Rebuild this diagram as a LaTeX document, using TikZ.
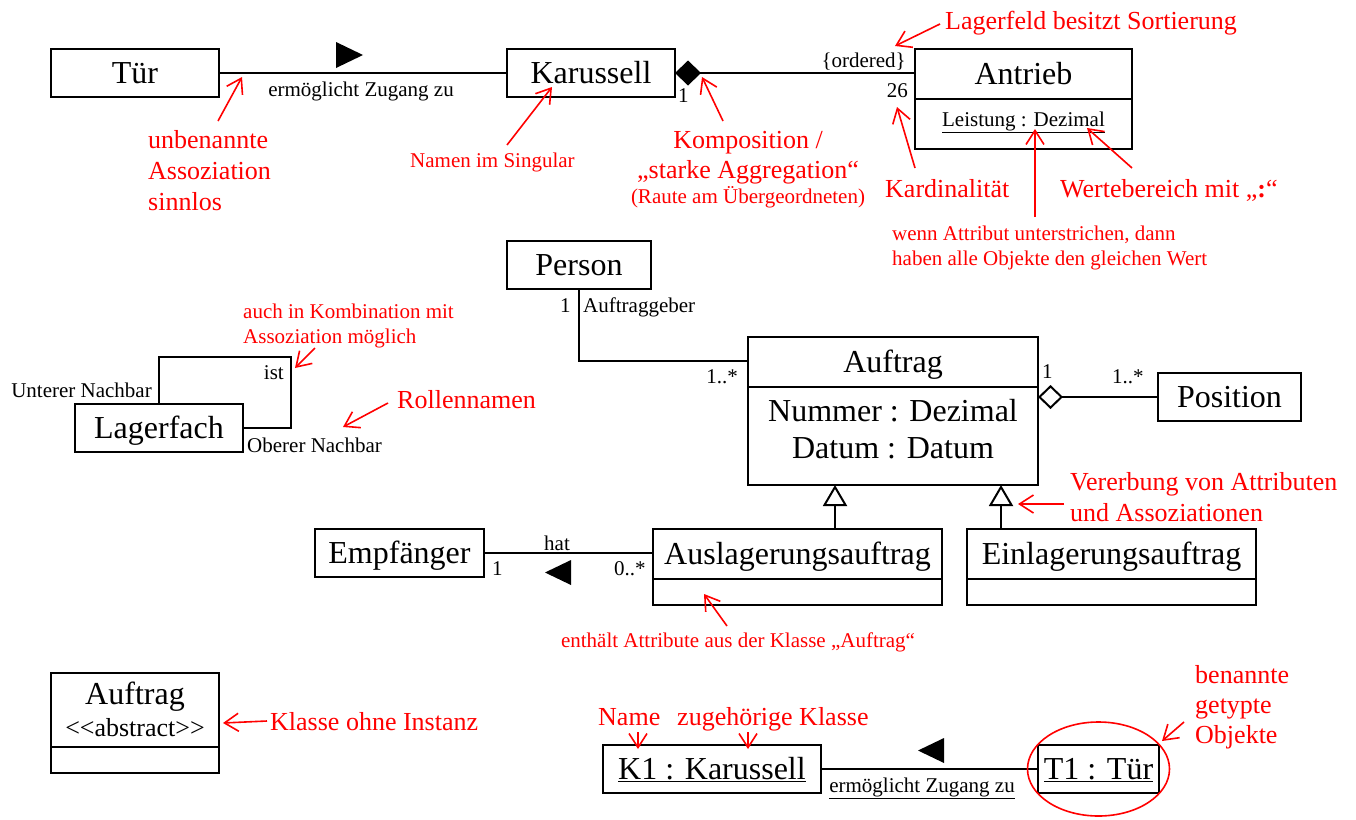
\documentclass[tikz,border=0pt]{standalone}
\usepackage{fontspec}
\setmainfont{Liberation Serif}
\usetikzlibrary{shapes.multipart,arrows.meta}

% Fach einer Klasse: Breite, Tiefe unter der Grundlinie, Hoehe, Text
\newcommand{\fach}[4]{\rule[-#2pt]{0pt}{#3pt}\makebox[#1pt]{#4}}

\begin{document}
\begin{tikzpicture}[
    x=1pt, y=-1pt,
    % Klassen und Linien
    klasse/.style={draw, line width=2pt, inner sep=0pt, outer sep=0pt, font=\fontsize{32}{37}\selectfont},
    klasse2/.style={klasse, rectangle split, rectangle split parts=2},
    assoc/.style={line width=2pt},
    gen/.style={assoc, -{Triangle[open, fill=white, length=21pt, width=24pt]}},
    lab/.style={inner sep=0pt, font=\fontsize{21}{25}\selectfont},
    % Anmerkungen in Rot
    anno/.style={inner sep=0pt, text=red, align=left, font=\fontsize{26}{31}\selectfont},
    annosmall/.style={anno, font=\fontsize{21}{25}\selectfont},
    pfeil/.style={red, line width=1.6pt, -{Straight Barb[length=14pt, width=18pt]}}
]
    \useasboundingbox (0,0) rectangle (1356,819);

    % Klassen
    \node[klasse] (tuer) at (135,73) {\fach{168}{14}{48}{Tür}};
    \node[klasse] (karussell) at (591,73) {\fach{168}{14}{48}{Karussell}};
    \node[klasse2, anchor=north] (antrieb) at (1023.5,49) {\fach{217}{14}{48}{Antrieb}\nodepart{two}\fach{217}{22}{48}{\fontsize{21}{25}\selectfont\underline{Leistung : Dezimal}}};
    \node[klasse] (person) at (579,265) {\fach{144}{14}{48}{Person}};
    \node[klasse2, anchor=north] (auftrag) at (893,337) {\fach{290}{14}{48}{Auftrag}\nodepart{two}\fach{290}{63}{96}{\begin{tabular}[t]{@{}c@{}}Nummer : Dezimal\\Datum : Datum\end{tabular}}};
    \node[klasse] (position) at (1229.5,397) {\fach{143}{14}{48}{Position}};
    \node[klasse] (lagerfach) at (159,428) {\fach{168}{14}{48}{Lagerfach}};
    \node[klasse] (empfaenger) at (399.5,553) {\fach{169}{14}{48}{Empfänger}};
    \node[klasse2, anchor=north] (auslager) at (797.5,529) {\fach{289}{14}{48}{Auslagerungsauftrag}\nodepart{two}\fach{289}{0}{24}{}};
    \node[klasse2, anchor=north] (einlager) at (1111.5,529) {\fach{289}{14}{48}{Einlagerungsauftrag}\nodepart{two}\fach{289}{0}{24}{}};
    \node[klasse2, anchor=north] (abstrakt) at (135,673) {\fach{168}{42}{72}{\fontsize{32}{32}\selectfont\begin{tabular}[t]{@{}c@{}}Auftrag\\\fontsize{26}{31}\selectfont<\kern0pt<abstract>\kern0pt>\end{tabular}}\nodepart{two}\fach{168}{0}{24}{}};
    \node[klasse] (k1) at (712,769) {\fach{218}{14}{48}{\underline{K1 : Karussell}}};
    \node[klasse] (t1) at (1098.5,769) {\fach{121}{14}{48}{\underline{T1 : Tür}}};

    % Assoziationen
    \draw[assoc] (tuer) -- (karussell);
    \fill (336,42) -- (363,55) -- (336,68) -- cycle;
    \draw[assoc, {Diamond[length=26pt, width=25pt]}-] (karussell.east) -- (karussell.east -| antrieb.west);
    \draw[assoc] (person.south) |- ([yshift=-24pt]auftrag.north west);
    \draw[assoc, {Diamond[open, fill=white, length=25pt, width=24pt]}-] (position.west -| auftrag.east) -- (position.west);
    \draw[gen] ([xshift=37.5pt]auslager.north) -- ([xshift=37.5pt]auslager.north |- auftrag.south);
    \draw[gen] ([xshift=-110.5pt]einlager.north) -- ([xshift=-110.5pt]einlager.north |- auftrag.south);
    \draw[assoc] (empfaenger.east) -- (empfaenger.east -| auslager.west);
    \fill (545,572.5) -- (571,560) -- (571,585) -- cycle;
    \draw[assoc] (lagerfach.north) |- ++(132,-47) |- (lagerfach.east);
    \draw[assoc] (k1) -- (t1);
    \fill (918,750.5) -- (944,738) -- (944,763) -- cycle;
    \draw[red, line width=1.6pt] (t1.center) ellipse (71pt and 47pt);

    % Beschriftungen
    \node[lab, anchor=base] (zugang) at (361,96) {ermöglicht Zugang zu};
    \node[lab, anchor=base west] (kar1) at (678,102) {1};
    \node[lab, anchor=base east] (ordered) at (906,67) {\{ordered\}};
    \node[lab, anchor=base east] (kard26) at (908,97) {26};
    \node[lab, anchor=base west] (pers1) at (560,312) {1};
    \node[lab, anchor=base west] (auftraggeber) at (583,312) {Auftraggeber};
    \node[lab, anchor=base east] (auftr1n) at (738,383) {1..*};
    \node[lab, anchor=base west] (auftr1) at (1042,378) {1};
    \node[lab, anchor=base west] (pos1n) at (1112,383) {1..*};
    \node[lab, anchor=base east] (ist) at (284,379) {ist};
    \node[lab, anchor=base east] (unterer) at (152,397) {Unterer Nachbar};
    \node[lab, anchor=base west] (oberer) at (247,452) {Oberer Nachbar};
    \node[lab, anchor=base] (hat) at (557,550) {hat};
    \node[lab, anchor=base west] (empf1) at (492,575) {1};
    \node[lab, anchor=base west] (ausl0n) at (614,575) {0..*};
    \node[lab, anchor=base] (zugang2) at (922,792) {\underline{ermöglicht Zugang zu}};

    % Anmerkungen (Grundlinie der letzten Zeile)
    \node[anno, anchor=base west] (unbenannt) at (148,210) {unbenannte\\Assoziation\\sinnlos};
    \node[annosmall, anchor=base west] (singular) at (410,167) {Namen im Singular};
    \node[anno, align=center, anchor=base] (komposition) at (748,203) {Komposition /\\[-1pt]„starke Aggregation“\\[-6pt]{\fontsize{21}{25}\selectfont (Raute am Übergeordneten)}};
    \node[anno, anchor=base west] (lagerfeld) at (945,29) {Lagerfeld besitzt Sortierung};
    \node[anno, anchor=base west] (kardinal) at (885,197) {Kardinalität};
    \node[anno, anchor=base west] (werte) at (1060,197) {Wertebereich mit „\textbf{:}“};
    \node[annosmall, anchor=base west] (wenn) at (892,265) {wenn Attribut unterstrichen, dann\\haben alle Objekte den gleichen Wert};
    \node[annosmall, anchor=base west] (auch) at (243,343) {auch in Kombination mit\\Assoziation möglich};
    \node[anno, anchor=base west] (rollen) at (397,408) {Rollennamen};
    \node[anno, anchor=base west] (vererbung) at (1070,521) {Vererbung von Attributen\\und Assoziationen};
    \node[annosmall, anchor=base] (enthaelt) at (738,647) {enthält Attribute aus der Klasse „Auftrag“};
    \node[anno, anchor=base west] (ohneinstanz) at (270,730) {Klasse ohne Instanz};
    \node[anno, anchor=base west] (name) at (598,725) {Name};
    \node[anno, anchor=base west] (zugehoerig) at (677,725) {zugehörige Klasse};
    \node[anno, anchor=base west, font=\fontsize{26}{30}\selectfont] (benannt) at (1195,743) {benannte\\getypte\\Objekte};

    % Pfeile der Anmerkungen
    \draw[pfeil] ([shift={(70,-89)}]unbenannt.base west) -- ([shift={(23,4)}]tuer.east);
    \draw[pfeil] ([shift={(97,-22)}]singular.base west) -- ([shift={(-39,-10)}]karussell.south);
    \draw[pfeil] ([shift={(-25,-82)}]komposition.base) -- ([shift={(27,4)}]karussell.east);
    \draw[pfeil] ([shift={(-5,-5)}]lagerfeld.base west) -- ([shift={(-20,-3)}]antrieb.north west);
    \draw[pfeil] ([shift={(30,-29)}]kardinal.base west) -- ([shift={(-18,58)}]antrieb.north west);
    \draw[pfeil] ([shift={(143,-48)}]wenn.base west) -- ([shift={(11.5,-20)}]antrieb.south);
    \draw[pfeil] ([shift={(72,-29)}]werte.base west) -- ([shift={(63.5,-21)}]antrieb.south);
    \draw[pfeil] ([shift={(72,5)}]auch.base west) -- ([shift={(52,-36)}]lagerfach.north east);
    \draw[pfeil] ([shift={(-9,-5)}]rollen.base west) -- ([shift={(100,-1)}]lagerfach.east);
    \draw[pfeil] ([shift={(-6,-17)}]vererbung.base west) -- ([shift={(-93.5,-25)}]einlager.north);
    \draw[pfeil] ([shift={(-11,-21)}]enthaelt.base) -- ([shift={(-93.5,-11)}]auslager.south);
    \draw[pfeil] ([shift={(-3,-9)}]ohneinstanz.base west) -- ([shift={(4,0)}]abstrakt.east);
    \draw[pfeil] ([shift={(-11,-21)}]benannt.base west) -- ([shift={(63.5,-28)}]t1.center);
    \draw[pfeil] ([shift={(40,7)}]name.base west) -- ([shift={(35,4)}]k1.north west);
    \draw[pfeil] ([shift={(71,7)}]zugehoerig.base west) -- ([shift={(145,4)}]k1.north west);

\end{tikzpicture}
\end{document}
